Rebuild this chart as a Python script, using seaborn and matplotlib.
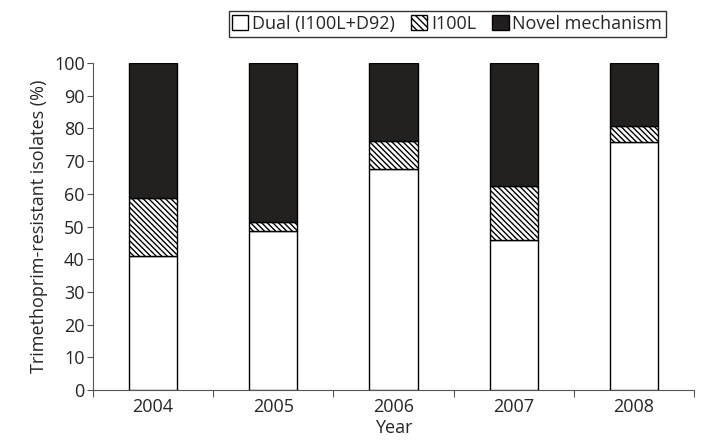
import matplotlib
matplotlib.use("Agg")
import matplotlib.pyplot as plt
import numpy as np
import pandas as pd
import seaborn as sns
from matplotlib.patches import Patch

sns.set_style("ticks")
plt.rcParams["font.family"] = ["Open Sans", "DejaVu Sans"]
plt.rcParams["hatch.linewidth"] = 1.0

years = ["2004", "2005", "2006", "2007", "2008"]
dual = [41.0, 48.5, 67.7, 45.9, 75.9]
i100l = [17.8, 2.8, 8.3, 16.4, 4.7]
novel = [41.2, 48.7, 24.0, 37.7, 19.4]

df = pd.DataFrame({"year": years, "dual": dual, "i100l": i100l, "novel": novel})
df["b2"] = df.dual
df["b3"] = df.dual + df.i100l

fig = plt.figure(figsize=(7.02, 4.44), dpi=100)
ax = fig.add_axes([0.1325, 0.1216, 0.856, 0.7365])

common = dict(x="year", width=0.4, edgecolor="black", linewidth=1.0, ax=ax, zorder=3)
sns.barplot(data=df, y="dual", color="white", **common)
sns.barplot(data=df, y="i100l", bottom=df.b2.values, color="white", hatch="\\" * 6, **common)
sns.barplot(data=df, y="novel", bottom=df.b3.values, color="#231f20", **common)

fs = 13
ax.set_xlim(-0.5, 4.5)
ax.set_ylim(0, 100)
ax.set_yticks(range(0, 101, 10))
ax.set_xticks(np.arange(-0.5, 4.6, 1), minor=False)
ax.set_xticklabels([])
ax.set_xticks(range(5), minor=True)
ax.set_xticklabels(years, minor=True)
ax.tick_params(axis="x", which="minor", length=0, labelsize=fs, pad=6)
ax.tick_params(axis="x", which="major", length=5, color="#555555")
ax.tick_params(axis="y", length=4, labelsize=fs, color="#555555", pad=2)
for s in ["top", "right"]:
    ax.spines[s].set_visible(False)
for s in ["left", "bottom"]:
    ax.spines[s].set_color("#555555")
ax.set_xlabel("Year", fontsize=fs, labelpad=2)
ax.set_ylabel("Trimethoprim-resistant isolates (%)", fontsize=fs, labelpad=4)

handles = [
    Patch(facecolor="white", edgecolor="black", label="Dual (I100L+D92)"),
    Patch(facecolor="white", edgecolor="black", hatch="\\" * 5, label="I100L"),
    Patch(facecolor="#231f20", edgecolor="black", label="Novel mechanism"),
]
fig.legend(handles=handles, loc="center", bbox_to_anchor=(0.637, 0.946), ncol=3,
           frameon=True, fancybox=False, edgecolor="black", fontsize=fs,
           handlelength=0.9, handleheight=0.9, handletextpad=0.2, columnspacing=0.9,
           borderpad=0.2, borderaxespad=0)

fig.savefig("out.png", dpi=100)
